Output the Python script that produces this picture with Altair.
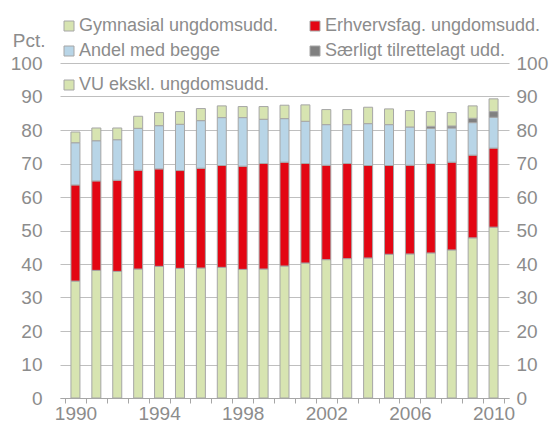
import altair as alt
import pandas as pd

years = list(range(1990, 2011))
series_names = ["Gymnasial ungdomsudd.", "Erhvervsfag. ungdomsudd.", "Andel med begge",
                "Særligt tilrettelagt udd.", "VU ekskl. ungdomsudd."]
gym = [34.9, 38.1, 37.8, 38.5, 39.3, 38.7, 38.8, 39.0, 38.4, 38.5, 39.4,
       40.3, 41.3, 41.6, 41.8, 42.9, 43.0, 43.3, 44.2, 47.8, 51.0]
erh = [28.7, 26.7, 27.2, 29.5, 29.1, 29.2, 29.8, 30.4, 30.8, 31.5, 31.0,
       29.7, 28.2, 28.4, 27.6, 26.5, 26.5, 26.7, 26.2, 24.7, 23.6]
andel = [12.6, 12.0, 12.1, 12.5, 12.9, 13.8, 14.2, 14.3, 14.5, 13.2, 13.0,
         12.6, 12.1, 11.6, 12.5, 12.2, 11.4, 10.5, 10.2, 9.7, 9.2]
saer = [0, 0, 0, 0, 0, 0, 0, 0, 0, 0, 0,
        0, 0, 0, 0, 0, 0, 0.6, 0.6, 1.3, 1.7]
vu = [3.2, 3.8, 3.5, 3.6, 3.9, 3.8, 3.6, 3.5, 3.3, 3.8, 4.0,
      4.9, 4.5, 4.5, 4.9, 4.7, 4.9, 4.4, 4.0, 3.7, 3.8]
colors = ["#D7E4B1", "#E30613", "#B8D5E7", "#808080", "#D7E4B1"]
y_ticks = list(range(0, 101, 10))
x_label_years = [1990, 1994, 1998, 2002, 2006, 2010]
x_tick_pos = [y - 0.5 for y in years] + [years[-1] + 0.5]

rows = []
for i, (name, vals) in enumerate(zip(series_names, [gym, erh, andel, saer, vu])):
    for yr, v in zip(years, vals):
        rows.append({"year": yr, "series": name, "value": v, "order": i})
df = pd.DataFrame(rows)

FONT = "Liberation Sans"
GREY = "#8C8C8C"
STROKE = "#A6A6A6"
LEG_FS = 18

xscale = alt.Scale(domain=[1989.5, 2010.5], nice=False, zero=False)
yscale = alt.Scale(domain=[0, 100], nice=False)

base = alt.Chart(df).transform_stack(
    stack="value", groupby=["year"], sort=[alt.SortField("order")], as_=["y0", "y1"]
)

bars_main = base.transform_filter(
    alt.datum.series != series_names[4]
).transform_filter(alt.datum.value > 0).mark_bar(
    size=9, stroke=STROKE, strokeWidth=1
).encode(
    x=alt.X("year:Q", scale=xscale,
            axis=alt.Axis(values=x_label_years, format="d", ticks=False, domain=False,
                          grid=False, labelPadding=6, labelFontSize=19,
                          labelColor=GREY, title=None, labelFont=FONT)),
    y=alt.Y("y0:Q", scale=yscale,
            axis=alt.Axis(values=y_ticks, orient="left", domain=False, ticks=False,
                          grid=True, gridColor="#BFBFBF", gridWidth=1,
                          labelPadding=18, labelFontSize=19, labelColor=GREY,
                          labelFont=FONT,
                          title="Pct.", titleAngle=0, titleX=-15, titleY=-23,
                          titleAlign="right", titleBaseline="middle",
                          titleFontSize=19, titleFontWeight="normal",
                          titleColor=GREY, titleFont=FONT)),
    y2="y1:Q",
    color=alt.Color("series:N",
                    scale=alt.Scale(domain=series_names[:4], range=colors[:4]),
                    legend=alt.Legend(orient="none", legendX=0, legendY=-46,
                                      direction="horizontal",
                                      columns=2, columnPadding=27, rowPadding=7,
                                      padding=0, title=None, symbolType="square",
                                      symbolSize=100, symbolStrokeColor=STROKE,
                                      symbolStrokeWidth=1, labelFontSize=LEG_FS,
                                      labelColor=GREY, labelFont=FONT,
                                      labelOffset=1, labelLimit=400)),
)

bars_vu = base.transform_filter(
    alt.datum.series == series_names[4]
).mark_bar(size=9, stroke=STROKE, strokeWidth=1).encode(
    x=alt.X("year:Q", scale=xscale, axis=None),
    y=alt.Y("y0:Q", scale=yscale, axis=None),
    y2="y1:Q",
    fill=alt.Fill("series:N",
                  scale=alt.Scale(domain=[series_names[4]], range=[colors[4]]),
                  legend=alt.Legend(orient="none", legendX=0, legendY=13,
                                    padding=0, title=None, symbolType="square",
                                    symbolSize=100, symbolStrokeColor=STROKE,
                                    symbolStrokeWidth=1, labelFontSize=LEG_FS,
                                    labelColor=GREY, labelFont=FONT,
                                    labelOffset=1, labelLimit=400)),
)

axes_layer = base.mark_point(opacity=0).encode(
    x=alt.X("year:Q", scale=xscale,
            axis=alt.Axis(values=x_tick_pos, orient="bottom", labels=False, grid=False,
                          ticks=True, tickSize=5, tickColor=STROKE, domain=True,
                          domainColor=STROKE, title=None)),
    y=alt.Y("y1:Q", scale=yscale,
            axis=alt.Axis(values=y_ticks, orient="right", domain=False, ticks=False,
                          grid=False, labelPadding=7, labelFontSize=19,
                          labelColor=GREY, labelFont=FONT, title=None)),
)

chart = alt.layer(bars_main, bars_vu, axes_layer).resolve_axis(
    x="independent", y="independent"
).properties(
    width=449, height=335,
    autosize=alt.AutoSizeParams(type="none"),
    padding={"left": 52, "top": 55, "right": 43, "bottom": 30},
).configure_view(stroke=None)

chart.save("out.html", embed_options={"renderer": "svg", "actions": False})
